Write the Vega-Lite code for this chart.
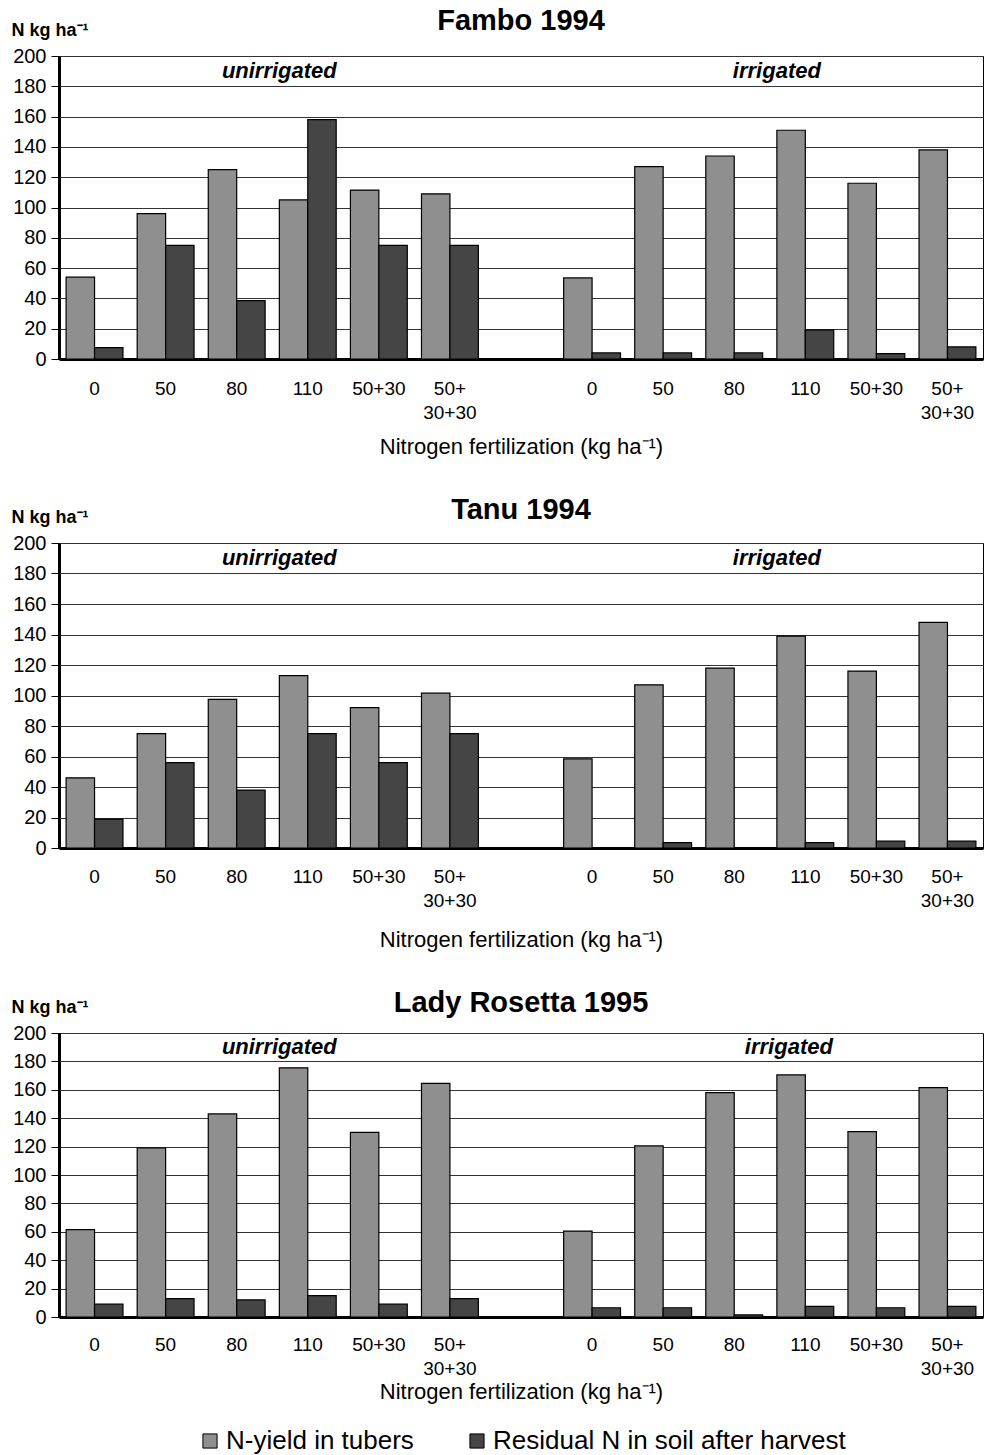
{
  "$schema": "https://vega.github.io/schema/vega-lite/v6.json",
  "padding": {"left": 10, "top": 6, "right": 2, "bottom": 4},
  "background": "white",
  "config": {
    "font": "Liberation Sans",
    "view": {"stroke": "#000", "strokeWidth": 1},
    "axisY": {
      "domainColor": "#000", "domainWidth": 3, "tickColor": "#000", "tickSize": 8, "tickWidth": 1,
      "labelFontSize": 20, "labelColor": "#000", "labelPadding": 5, "labelOverlap": false, "gridColor": "#333", "gridWidth": 1,
      "titleAngle": 0, "titleAlign": "left", "titleBaseline": "middle", "titleX": -48, "titleY": -26,
      "titleFontSize": 18, "titleFontWeight": "bold", "titleColor": "#000"
    },
    "axisX": {
      "domainColor": "#000", "domainWidth": 3, "ticks": false, "grid": false,
      "labelFontSize": 19, "labelColor": "#000", "labelAngle": 0, "labelLineHeight": 24,
      "titleFontSize": 22, "titleFontWeight": "normal", "titleColor": "#000"
    },
    "title": {"fontSize": 29, "fontWeight": "bold", "color": "#000", "frame": "group"},
    "legend": {"orient": "bottom", "layout": {"bottom": {"anchor": "middle"}}}
  },
  "datasets": {
    "bars": [
      {"panel": "Fambo", "cat": "u0", "series": "N-yield in tubers", "value": 54},
      {"panel": "Fambo", "cat": "u0", "series": "Residual N in soil after harvest", "value": 7.5},
      {"panel": "Fambo", "cat": "u50", "series": "N-yield in tubers", "value": 96},
      {"panel": "Fambo", "cat": "u50", "series": "Residual N in soil after harvest", "value": 75},
      {"panel": "Fambo", "cat": "u80", "series": "N-yield in tubers", "value": 125},
      {"panel": "Fambo", "cat": "u80", "series": "Residual N in soil after harvest", "value": 38.5},
      {"panel": "Fambo", "cat": "u110", "series": "N-yield in tubers", "value": 105},
      {"panel": "Fambo", "cat": "u110", "series": "Residual N in soil after harvest", "value": 158},
      {"panel": "Fambo", "cat": "u50+30", "series": "N-yield in tubers", "value": 111.5},
      {"panel": "Fambo", "cat": "u50+30", "series": "Residual N in soil after harvest", "value": 75},
      {"panel": "Fambo", "cat": "u50+30+30", "series": "N-yield in tubers", "value": 109},
      {"panel": "Fambo", "cat": "u50+30+30", "series": "Residual N in soil after harvest", "value": 75},
      {"panel": "Fambo", "cat": "i0", "series": "N-yield in tubers", "value": 53.5},
      {"panel": "Fambo", "cat": "i0", "series": "Residual N in soil after harvest", "value": 4},
      {"panel": "Fambo", "cat": "i50", "series": "N-yield in tubers", "value": 127},
      {"panel": "Fambo", "cat": "i50", "series": "Residual N in soil after harvest", "value": 4},
      {"panel": "Fambo", "cat": "i80", "series": "N-yield in tubers", "value": 134},
      {"panel": "Fambo", "cat": "i80", "series": "Residual N in soil after harvest", "value": 4},
      {"panel": "Fambo", "cat": "i110", "series": "N-yield in tubers", "value": 151},
      {"panel": "Fambo", "cat": "i110", "series": "Residual N in soil after harvest", "value": 19},
      {"panel": "Fambo", "cat": "i50+30", "series": "N-yield in tubers", "value": 116},
      {"panel": "Fambo", "cat": "i50+30", "series": "Residual N in soil after harvest", "value": 3.5},
      {"panel": "Fambo", "cat": "i50+30+30", "series": "N-yield in tubers", "value": 138},
      {"panel": "Fambo", "cat": "i50+30+30", "series": "Residual N in soil after harvest", "value": 8},
      {"panel": "Tanu", "cat": "u0", "series": "N-yield in tubers", "value": 46},
      {"panel": "Tanu", "cat": "u0", "series": "Residual N in soil after harvest", "value": 19},
      {"panel": "Tanu", "cat": "u50", "series": "N-yield in tubers", "value": 75},
      {"panel": "Tanu", "cat": "u50", "series": "Residual N in soil after harvest", "value": 56},
      {"panel": "Tanu", "cat": "u80", "series": "N-yield in tubers", "value": 97.5},
      {"panel": "Tanu", "cat": "u80", "series": "Residual N in soil after harvest", "value": 38},
      {"panel": "Tanu", "cat": "u110", "series": "N-yield in tubers", "value": 113},
      {"panel": "Tanu", "cat": "u110", "series": "Residual N in soil after harvest", "value": 75},
      {"panel": "Tanu", "cat": "u50+30", "series": "N-yield in tubers", "value": 92},
      {"panel": "Tanu", "cat": "u50+30", "series": "Residual N in soil after harvest", "value": 56},
      {"panel": "Tanu", "cat": "u50+30+30", "series": "N-yield in tubers", "value": 101.5},
      {"panel": "Tanu", "cat": "u50+30+30", "series": "Residual N in soil after harvest", "value": 75},
      {"panel": "Tanu", "cat": "i0", "series": "N-yield in tubers", "value": 58.5},
      {"panel": "Tanu", "cat": "i0", "series": "Residual N in soil after harvest", "value": 0},
      {"panel": "Tanu", "cat": "i50", "series": "N-yield in tubers", "value": 107},
      {"panel": "Tanu", "cat": "i50", "series": "Residual N in soil after harvest", "value": 3.5},
      {"panel": "Tanu", "cat": "i80", "series": "N-yield in tubers", "value": 118},
      {"panel": "Tanu", "cat": "i80", "series": "Residual N in soil after harvest", "value": 0},
      {"panel": "Tanu", "cat": "i110", "series": "N-yield in tubers", "value": 139},
      {"panel": "Tanu", "cat": "i110", "series": "Residual N in soil after harvest", "value": 3.5},
      {"panel": "Tanu", "cat": "i50+30", "series": "N-yield in tubers", "value": 116},
      {"panel": "Tanu", "cat": "i50+30", "series": "Residual N in soil after harvest", "value": 4.5},
      {"panel": "Tanu", "cat": "i50+30+30", "series": "N-yield in tubers", "value": 148},
      {"panel": "Tanu", "cat": "i50+30+30", "series": "Residual N in soil after harvest", "value": 4.5},
      {"panel": "Lady", "cat": "u0", "series": "N-yield in tubers", "value": 61.5},
      {"panel": "Lady", "cat": "u0", "series": "Residual N in soil after harvest", "value": 9},
      {"panel": "Lady", "cat": "u50", "series": "N-yield in tubers", "value": 119},
      {"panel": "Lady", "cat": "u50", "series": "Residual N in soil after harvest", "value": 13},
      {"panel": "Lady", "cat": "u80", "series": "N-yield in tubers", "value": 143},
      {"panel": "Lady", "cat": "u80", "series": "Residual N in soil after harvest", "value": 12},
      {"panel": "Lady", "cat": "u110", "series": "N-yield in tubers", "value": 175.5},
      {"panel": "Lady", "cat": "u110", "series": "Residual N in soil after harvest", "value": 15},
      {"panel": "Lady", "cat": "u50+30", "series": "N-yield in tubers", "value": 130},
      {"panel": "Lady", "cat": "u50+30", "series": "Residual N in soil after harvest", "value": 9},
      {"panel": "Lady", "cat": "u50+30+30", "series": "N-yield in tubers", "value": 164.5},
      {"panel": "Lady", "cat": "u50+30+30", "series": "Residual N in soil after harvest", "value": 13},
      {"panel": "Lady", "cat": "i0", "series": "N-yield in tubers", "value": 60.5},
      {"panel": "Lady", "cat": "i0", "series": "Residual N in soil after harvest", "value": 6.5},
      {"panel": "Lady", "cat": "i50", "series": "N-yield in tubers", "value": 120.5},
      {"panel": "Lady", "cat": "i50", "series": "Residual N in soil after harvest", "value": 6.5},
      {"panel": "Lady", "cat": "i80", "series": "N-yield in tubers", "value": 158},
      {"panel": "Lady", "cat": "i80", "series": "Residual N in soil after harvest", "value": 1.5},
      {"panel": "Lady", "cat": "i110", "series": "N-yield in tubers", "value": 170.5},
      {"panel": "Lady", "cat": "i110", "series": "Residual N in soil after harvest", "value": 7.5},
      {"panel": "Lady", "cat": "i50+30", "series": "N-yield in tubers", "value": 130.5},
      {"panel": "Lady", "cat": "i50+30", "series": "Residual N in soil after harvest", "value": 6.5},
      {"panel": "Lady", "cat": "i50+30+30", "series": "N-yield in tubers", "value": 161.5},
      {"panel": "Lady", "cat": "i50+30+30", "series": "Residual N in soil after harvest", "value": 7.5}
    ],
    "notes": [
      {"label": "unirrigated", "cat": "u110", "value": 190},
      {"label": "irrigated", "cat": "i110", "value": 190}
    ]
  },
  "vconcat": [
    {
      "title": {"text": "Fambo 1994", "offset": -15},
      "width": 924, "height": 303,
      "layer": [
        {
          "data": {"name": "bars"},
          "transform": [{"filter": "datum.panel == 'Fambo'"}],
          "mark": {"type": "bar", "stroke": "#000", "strokeWidth": 1.2},
          "encoding": {
            "x": {"field": "cat", "type": "nominal", "sort": null,
              "scale": {"domain": ["u0","u50","u80","u110","u50+30","u50+30+30","gap","i0","i50","i80","i110","i50+30","i50+30+30"], "paddingInner": 0.2, "paddingOuter": 0.1},
              "axis": {"title": "Nitrogen fertilization (kg ha⁻¹)", "labelPadding": 20, "titlePadding": 14,
                "labelExpr": "datum.value == 'gap' ? '' : (indexof(datum.value, '30+30') >= 0 ? ['50+', '30+30'] : substring(datum.value, 1))"}},
            "xOffset": {"field": "series", "type": "nominal", "sort": ["N-yield in tubers", "Residual N in soil after harvest"], "scale": {"paddingInner": 0, "paddingOuter": 0}},
            "y": {"field": "value", "type": "quantitative", "scale": {"domain": [0, 200]}, "axis": {"title": "N kg ha⁻¹", "values": [0,20,40,60,80,100,120,140,160,180,200]}},
            "color": {"field": "series", "type": "nominal",
              "scale": {"domain": ["N-yield in tubers", "Residual N in soil after harvest"], "range": ["#8f8f8f", "#454545"]},
              "legend": {"title": null, "direction": "horizontal", "labelFontSize": 26, "labelColor": "#000", "labelLimit": 600, "symbolType": "square", "symbolSize": 200, "symbolStrokeColor": "#000", "symbolStrokeWidth": 1, "columnPadding": 50, "labelOffset": 3, "offset": 25}}
          }
        },
        {
          "data": {"name": "notes"},
          "mark": {"type": "text", "fontSize": 22, "fontWeight": "bold", "fontStyle": "italic", "color": "#000", "baseline": "middle"},
          "encoding": {
            "x": {"field": "cat", "type": "nominal", "bandPosition": 0},
            "y": {"field": "value", "type": "quantitative", "axis": {"title": "N kg ha⁻¹", "values": [0,20,40,60,80,100,120,140,160,180,200]}},
            "text": {"field": "label"}
          }
        }
      ]
    },
    {
      "title": {"text": "Tanu 1994", "offset": -17},
      "width": 924, "height": 305,
      "layer": [
        {
          "data": {"name": "bars"},
          "transform": [{"filter": "datum.panel == 'Tanu'"}],
          "mark": {"type": "bar", "stroke": "#000", "strokeWidth": 1.2},
          "encoding": {
            "x": {"field": "cat", "type": "nominal", "sort": null,
              "scale": {"domain": ["u0","u50","u80","u110","u50+30","u50+30+30","gap","i0","i50","i80","i110","i50+30","i50+30+30"], "paddingInner": 0.2, "paddingOuter": 0.1},
              "axis": {"title": "Nitrogen fertilization (kg ha⁻¹)", "labelPadding": 19, "titlePadding": 19,
                "labelExpr": "datum.value == 'gap' ? '' : (indexof(datum.value, '30+30') >= 0 ? ['50+', '30+30'] : substring(datum.value, 1))"}},
            "xOffset": {"field": "series", "type": "nominal", "sort": ["N-yield in tubers", "Residual N in soil after harvest"], "scale": {"paddingInner": 0, "paddingOuter": 0}},
            "y": {"field": "value", "type": "quantitative", "scale": {"domain": [0, 200]}, "axis": {"title": "N kg ha⁻¹", "values": [0,20,40,60,80,100,120,140,160,180,200]}},
            "color": {"field": "series", "type": "nominal",
              "scale": {"domain": ["N-yield in tubers", "Residual N in soil after harvest"], "range": ["#8f8f8f", "#454545"]}}
          }
        },
        {
          "data": {"name": "notes"},
          "mark": {"type": "text", "fontSize": 22, "fontWeight": "bold", "fontStyle": "italic", "color": "#000", "baseline": "middle"},
          "encoding": {
            "x": {"field": "cat", "type": "nominal", "bandPosition": 0},
            "y": {"field": "value", "type": "quantitative", "axis": {"title": "N kg ha⁻¹", "values": [0,20,40,60,80,100,120,140,160,180,200]}},
            "text": {"field": "label"}
          }
        }
      ]
    },
    {
      "title": {"text": "Lady Rosetta 1995", "offset": -20},
      "width": 924, "height": 284,
      "layer": [
        {
          "data": {"name": "bars"},
          "transform": [{"filter": "datum.panel == 'Lady'"}],
          "mark": {"type": "bar", "stroke": "#000", "strokeWidth": 1.2},
          "encoding": {
            "x": {"field": "cat", "type": "nominal", "sort": null,
              "scale": {"domain": ["u0","u50","u80","u110","u50+30","u50+30+30","gap","i0","i50","i80","i110","i50+30","i50+30+30"], "paddingInner": 0.2, "paddingOuter": 0.1},
              "axis": {"title": "Nitrogen fertilization (kg ha⁻¹)", "labelPadding": 18, "titlePadding": 3,
                "labelExpr": "datum.value == 'gap' ? '' : (indexof(datum.value, '30+30') >= 0 ? ['50+', '30+30'] : substring(datum.value, 1))"}},
            "xOffset": {"field": "series", "type": "nominal", "sort": ["N-yield in tubers", "Residual N in soil after harvest"], "scale": {"paddingInner": 0, "paddingOuter": 0}},
            "y": {"field": "value", "type": "quantitative", "scale": {"domain": [0, 200]}, "axis": {"title": "N kg ha⁻¹", "values": [0,20,40,60,80,100,120,140,160,180,200]}},
            "color": {"field": "series", "type": "nominal",
              "scale": {"domain": ["N-yield in tubers", "Residual N in soil after harvest"], "range": ["#8f8f8f", "#454545"]}}
          }
        },
        {
          "data": {"name": "notes"},
          "transform": [{"filter": "datum.label == 'unirrigated'"}],
          "mark": {"type": "text", "fontSize": 22, "fontWeight": "bold", "fontStyle": "italic", "color": "#000", "baseline": "middle"},
          "encoding": {
            "x": {"field": "cat", "type": "nominal", "bandPosition": 0},
            "y": {"field": "value", "type": "quantitative", "axis": {"title": "N kg ha⁻¹", "values": [0,20,40,60,80,100,120,140,160,180,200]}},
            "text": {"field": "label"}
          }
        },
        {
          "data": {"name": "notes"},
          "transform": [{"filter": "datum.label == 'irrigated'"}],
          "mark": {"type": "text", "fontSize": 22, "fontWeight": "bold", "fontStyle": "italic", "color": "#000", "baseline": "middle", "dx": 12},
          "encoding": {
            "x": {"field": "cat", "type": "nominal", "bandPosition": 0},
            "y": {"field": "value", "type": "quantitative", "axis": {"title": "N kg ha⁻¹", "values": [0,20,40,60,80,100,120,140,160,180,200]}},
            "text": {"field": "label"}
          }
        }
      ]
    }
  ],
  "spacing": 37
}
